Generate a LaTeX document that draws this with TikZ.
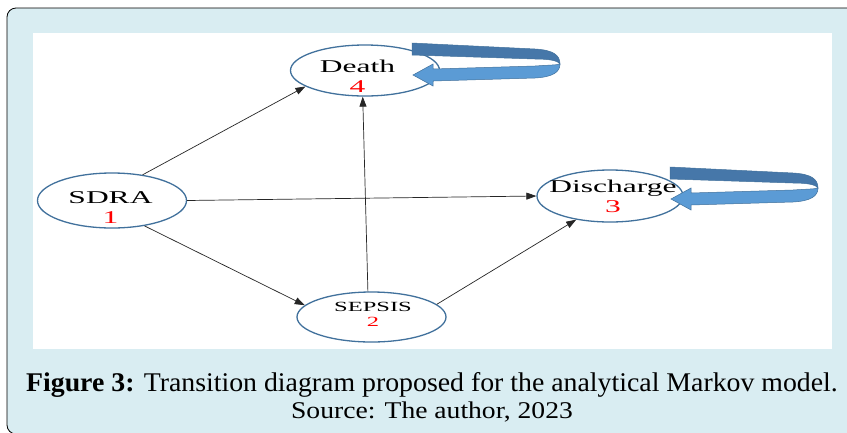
\documentclass[tikz,border=0pt]{standalone}
\usepackage{fontspec}
\setmainfont{Liberation Serif}
\newfontfamily\estadofont[FakeStretch=1.75]{Liberation Serif}
\newfontfamily\fuentefont[FakeStretch=1.15]{Liberation Serif}
\newfontfamily\titulofont[FakeStretch=1.03]{Liberation Serif}
\usetikzlibrary{shapes.geometric,arrows.meta,calc}
\definecolor{marco}{HTML}{D9EDF2}
\definecolor{borde}{HTML}{41719C}
\definecolor{azul}{HTML}{5B9BD5}
\definecolor{azuloscuro}{HTML}{4677A9}
\definecolor{linea}{HTML}{262626}

\begin{document}
\begin{tikzpicture}[x=1pt, y=-1pt,
  estado/.style={ellipse, draw=borde, line width=1.3pt, fill=white, minimum width=149pt, minimum height=51pt, inner sep=0pt},
  nombre/.style={font=\estadofont\fontsize{18}{20}\selectfont, align=center, text=black},
  flecha/.style={-{Triangle[length=10pt,width=7pt]}, line width=0.7pt, linea},
  pie/.style={align=center, anchor=base, text=black},
  bucle/.pic={
    \filldraw[fill=azuloscuro, draw=borde, line width=0.5pt] (-1,-32) -- (122,-26) .. controls (140,-25) and (147,-20) .. (147,-11) .. controls (145,-14) and (138,-16) .. (122,-16) -- (-1,-20) -- cycle;
    \filldraw[fill=azul, draw=borde, line width=0.5pt] (147,-11) .. controls (147,-3) and (140,2) .. (122,3) -- (20,6) -- (20,11) -- (0,0) -- (20,-11) -- (20,-6) -- (122,-9) .. controls (136,-10) and (145,-10) .. (147,-11) -- cycle;
  }
]
\useasboundingbox (0,0) rectangle (847,432);
% fondo
\draw[fill=marco, line width=0.8pt, rounded corners=9pt] (7,8) rectangle (870,434);
\fill[white] (33,33) rectangle (832,349);

% estados
\node[estado, label={[nombre, xshift=-7.5pt, yshift=-5.5pt]center:Death\\\textcolor{red}{4}}] (death) at (365,70.5) {};
\node[estado, minimum height=55pt, label={[nombre, xshift=-1.5pt, yshift=-7.5pt]center:SDRA\\\textcolor{red}{1}}] (sdra) at (112,200.5) {};
\node[estado, minimum width=146pt, minimum height=52pt, label={[nombre, xshift=3pt]center:Discharge\\\textcolor{red}{3}}] (discharge) at (610,196) {};
\node[estado, minimum height=50pt, label={[nombre, font=\estadofont\fontsize{14}{15}\selectfont, xshift=1.5pt, yshift=2.3pt]center:SEPSIS\\\textcolor{red}{2}}] (sepsis) at (371.5,317) {};

% transiciones
\draw[flecha] (sdra.40) -- (death.195);
\draw[flecha] (sdra.east) -- (discharge.west);
\draw[flecha] (sdra.-38) -- (sepsis.170);
\draw[flecha] (sepsis.98) -- (death.265);
\draw[flecha] (sepsis.11) -- (discharge.215);

% permanencia
\pic at ([shift={(48,4.5)}]death.center) {bucle};
\pic at ([shift={(61,3)}]discharge.center) {bucle};

% leyenda
\node[pie] (pie) at (432,418) {\titulofont\fontsize{27}{30}\selectfont\textbf{Figure 3:} Transition diagram proposed for the analytical Markov model.\\[3pt]\fuentefont\fontsize{24}{30}\selectfont Source: The author, 2023};
\end{tikzpicture}
\end{document}
